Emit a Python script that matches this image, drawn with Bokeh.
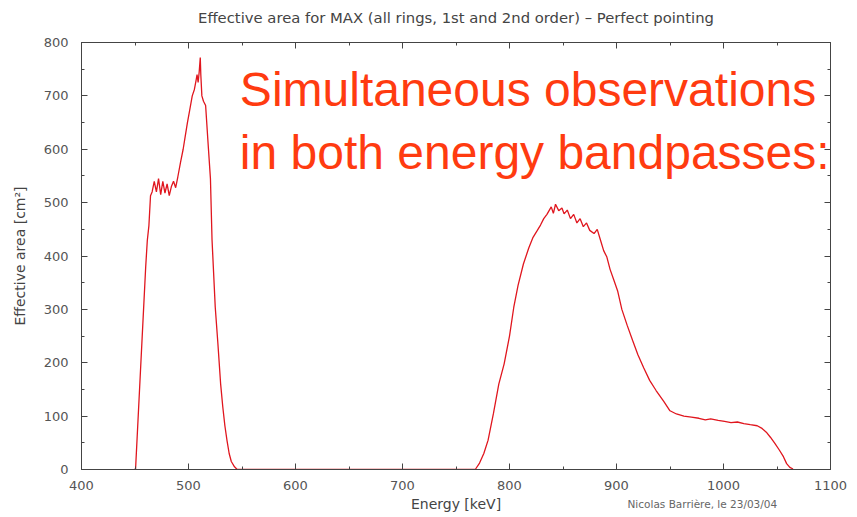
from bokeh.plotting import figure
from bokeh.models import Range1d, LinearAxis, Label, FixedTicker, CustomJSTickFormatter, Title
from bokeh.embed import file_html
from bokeh.resources import INLINE

energy = [449, 450.5, 452, 454, 456, 458, 460, 461.5, 463, 464.5, 466, 468, 470, 472, 474,
          476, 478, 480, 482, 484, 486, 488, 490, 492.5, 495, 497, 499, 501, 503.5, 505.5,
          507, 508, 509, 510, 511, 511.5, 512.5, 514, 516, 518, 520.5, 522, 525, 527.5, 530,
          532, 534, 536, 538, 540, 543, 545.5,
          600, 700, 760, 768, 772, 776, 780, 785, 790, 795, 800, 804, 808, 813, 818, 822, 826,
          829, 832, 835, 837, 839, 841, 843, 846, 849, 851, 854, 857, 860, 863, 866, 869,
          872, 875, 879, 882, 885, 888, 891, 894, 897.5, 901, 905, 910, 915, 920, 925.5,
          931, 937, 944, 950, 956, 963, 970, 977, 983, 988, 995, 1001, 1007, 1013, 1019,
          1025, 1031.5, 1036, 1040, 1044, 1048, 1052, 1056, 1059, 1062, 1065]
area = [0, 0, 60, 140, 220, 300, 380, 429, 457, 513, 520, 540, 520, 545, 515, 540, 518, 535,
        513, 530, 540, 528, 548, 575, 600, 625, 650, 672, 700, 712, 728, 740, 725, 745, 772,
        740, 700, 690, 682, 620, 545, 430, 304, 235, 161, 118, 82, 54, 30, 15, 5, 0,
        0, 0, 0, 0, 12, 30, 55, 105, 160, 198, 250, 304, 345, 385, 415, 435, 448,
        458, 470, 478, 485, 492, 480, 497, 485, 490, 479, 486, 470, 478, 462, 470, 455,
        462, 448, 442, 450, 430, 410, 398, 375, 355, 335, 300, 270, 242, 215, 190, 167,
        148, 128, 110, 104, 100, 98, 96, 93, 95, 92, 90, 88, 89, 86, 84,
        82, 77, 70, 60, 49, 37, 24, 11, 4, 1, 0]

x_ticks = [400, 500, 600, 700, 800, 900, 1000, 1100]
x_minor = [450, 550, 650, 750, 850, 950, 1050]
y_ticks = [0, 100, 200, 300, 400, 500, 600, 700, 800]
y_minor = [50, 150, 250, 350, 450, 550, 650, 750]

title_text = "Effective area for MAX (all rings, 1st and 2nd order) \u2013 Perfect pointing"
x_label = "Energy [keV]"
y_label = "Effective area [cm\u00b2]"
footer = "Nicolas Barri\u00e8re, le 23/03/04"
note_lines = ["Simultaneous observations", "in both energy bandpasses:"]

FONT = "DejaVu Sans"

p = figure(width=857, height=517, output_backend="svg", toolbar_location=None,
           x_range=Range1d(400, 1100), y_range=Range1d(0, 800),
           min_border_left=81, min_border_right=27, min_border_top=42, min_border_bottom=48)
p.grid.visible = False
p.outline_line_color = "#444444"
p.outline_line_width = 1
p.background_fill_color = "white"
p.border_fill_color = "white"

for ax in (p.xaxis[0], p.yaxis[0]):
    ax.major_tick_in = 6
    ax.major_tick_out = 0
    ax.minor_tick_in = 3
    ax.minor_tick_out = 0
    ax.axis_line_color = "#444444"
    ax.major_tick_line_color = "#444444"
    ax.minor_tick_line_color = "#444444"
    ax.major_label_text_font = FONT
    ax.major_label_text_font_size = "13px"
    ax.major_label_text_color = "#555555"
    ax.axis_label_text_font = FONT
    ax.axis_label_text_font_size = "14px"
    ax.axis_label_text_font_style = "normal"
    ax.axis_label_text_color = "#444444"

p.xaxis[0].ticker = FixedTicker(ticks=x_ticks, minor_ticks=x_minor)
p.yaxis[0].ticker = FixedTicker(ticks=y_ticks, minor_ticks=y_minor)
p.xaxis[0].major_label_standoff = 11
p.yaxis[0].major_label_standoff = 13
p.xaxis[0].axis_label = x_label
p.yaxis[0].axis_label = y_label
p.xaxis[0].axis_label_standoff = 3
p.yaxis[0].axis_label_standoff = 13

top_ax = LinearAxis(ticker=FixedTicker(ticks=x_ticks, minor_ticks=x_minor))
right_ax = LinearAxis(ticker=FixedTicker(ticks=y_ticks, minor_ticks=y_minor))
for ax in (top_ax, right_ax):
    ax.major_tick_in = 6
    ax.major_tick_out = 0
    ax.minor_tick_in = 3
    ax.minor_tick_out = 0
    ax.formatter = CustomJSTickFormatter(code="return ''")
    ax.major_label_standoff = 0
    ax.axis_line_color = "#444444"
    ax.major_tick_line_color = "#444444"
    ax.minor_tick_line_color = "#444444"
# the chart title sits on the mirrored top axis
top_ax.axis_label = title_text
top_ax.axis_label_text_font = FONT
top_ax.axis_label_text_font_size = "14.8px"
top_ax.axis_label_text_font_style = "normal"
top_ax.axis_label_text_color = "#444444"
top_ax.axis_label_standoff = 17
p.add_layout(top_ax, "above")
p.add_layout(right_ax, "right")

p.line(energy, area, line_color="#e0161e", line_width=1.3)

foot = Title(text=footer, align="left", offset=546, text_font=FONT, text_font_size="10.5px",
             text_font_style="normal", text_color="#666666", vertical_align="top",
             standoff=-34)
p.add_layout(foot, "below")

p.add_layout(Label(x=548, y=(469 - 106) / 0.534 + 32, text=note_lines[0],
                   text_font="Liberation Sans", text_font_size="48px",
                   text_color="#ff3b10", text_align="left", text_baseline="alphabetic"))
p.add_layout(Label(x=548, y=(469 - 169) / 0.534 + 32, text=note_lines[1],
                   text_font="Liberation Sans", text_font_size="48px",
                   text_color="#ff3b10", text_align="left", text_baseline="alphabetic"))

open("out.html", "w").write(file_html(p, INLINE))
